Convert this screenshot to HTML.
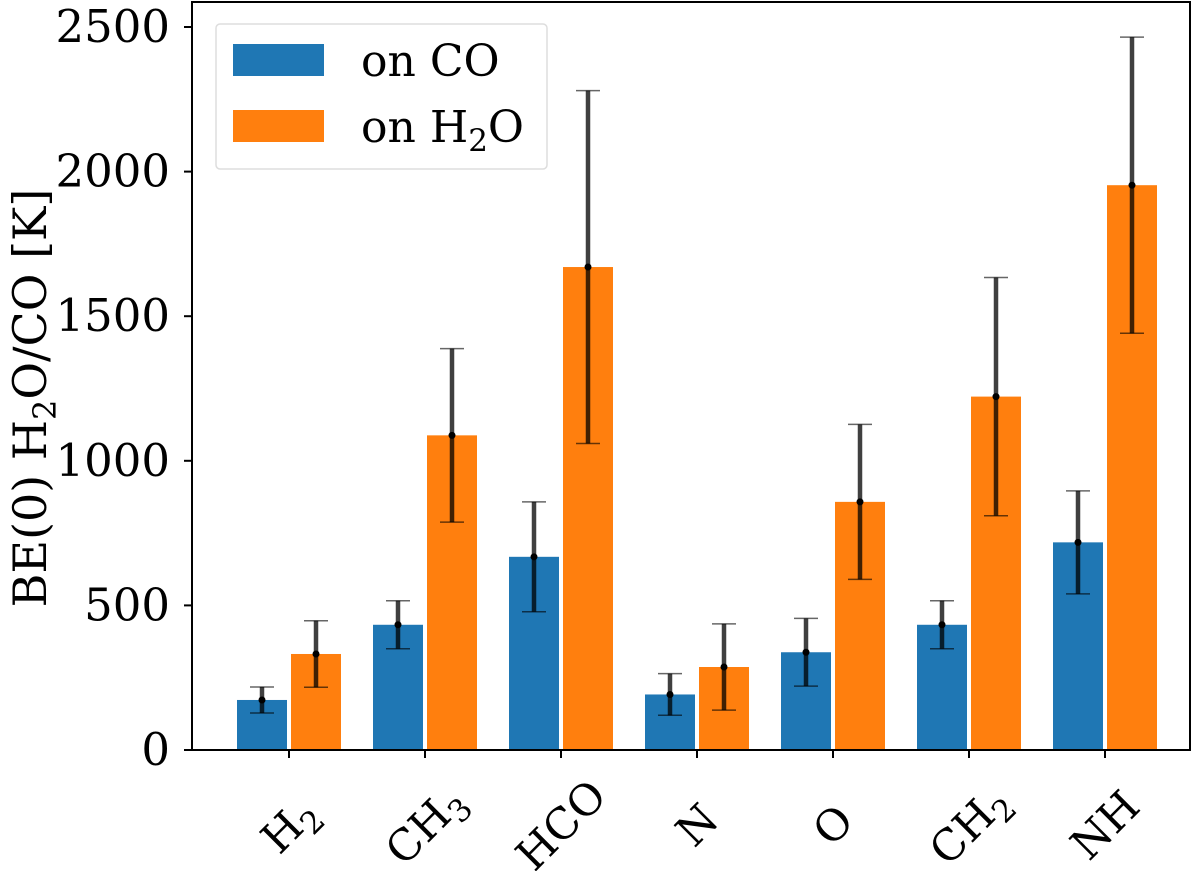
<!DOCTYPE html>
<html><head><meta charset="utf-8"><style>
html,body{margin:0;padding:0;background:#fff;}
svg text{font-family:"DejaVu Serif","Liberation Serif",serif;}
</style></head><body>
<svg id="chart" width="1200" height="871" viewBox="0 0 1200 871" xmlns="http://www.w3.org/2000/svg">
<g id="bars"></g>
<g id="errs"></g>
<g id="axes"></g>
<text transform="translate(46,398) rotate(-90)" text-anchor="middle" font-size="46">BE(0) H<tspan font-size="32" dy="10">2</tspan><tspan dy="-10">O/CO [K]</tspan></text>
<g>
<rect x="216" y="24" width="331" height="145" rx="4" fill="#fff" stroke="#ddd" stroke-width="1.5"/>
<rect x="233" y="44" width="91" height="32" fill="#1f77b4"/>
<rect x="233" y="110" width="91" height="32" fill="#ff7f0e"/>
<text x="361" y="76" font-size="44">on CO</text>
<text x="361" y="142" font-size="44">on H<tspan font-size="31" dy="9">2</tspan><tspan dy="-9">O</tspan></text>
</g>
</svg>
<script>
const categories = ["H2","CH3","HCO","N","O","CH2","NH"];
const subs = ["2","3","","","","2",""];
const onCO = [173,433,668,192,338,433,718];
const onCOErr = [45,83,190,72,117,83,178];
const onH2O = [332,1088,1670,287,858,1222,1953];
const onH2OErr = [115,300,610,149,268,412,512];
const yTicks = [0,500,1000,1500,2000,2500];

const NS="http://www.w3.org/2000/svg";
const X0=192,X1=1190,Y0=750,YT=2;
function x(i){return 289+136*i;}
function y(v){return Y0-v*(144.6/500);}
function mk(tag,attrs,parent){const e=document.createElementNS(NS,tag);for(const k in attrs)e.setAttribute(k,attrs[k]);parent.appendChild(e);return e;}
const bars=document.getElementById('bars'),errs=document.getElementById('errs'),axes=document.getElementById('axes');
const series=[[onCO,onCOErr,"#1f77b4",-27,"co"],[onH2O,onH2OErr,"#ff7f0e",27,"h2o"]];
series.forEach(s=>{
 s[0].forEach((v,i)=>{
  const cx=x(i)+s[3];
  const r=mk('rect',{x:cx-25,y:y(v),width:50,height:Y0-y(v),fill:s[2]},bars);
  
  
  const g=mk('g',{stroke:'#000','stroke-opacity':0.75},errs);
  
  
  const e=s[1][i];
  mk('line',{x1:cx,x2:cx,y1:y(v-e),y2:y(v+e),'stroke-width':4.5},g);
  mk('line',{x1:cx-12,x2:cx+12,y1:y(v-e),y2:y(v-e),'stroke-width':1.5,'stroke-opacity':0.6},g);
  mk('line',{x1:cx-12,x2:cx+12,y1:y(v+e),y2:y(v+e),'stroke-width':1.5,'stroke-opacity':0.6},g);
  mk('circle',{cx:cx,cy:y(v),r:3.5,fill:'#000',stroke:'none'},g);
 });
});
const frame=mk('rect',{x:X0,y:YT,width:X1-X0,height:Y0-YT,fill:'none',stroke:'#000','stroke-width':2},axes);


yTicks.forEach(t=>{
 mk('line',{x1:X0-8,x2:X0,y1:y(t),y2:y(t),stroke:'#000','stroke-width':2},axes);
 const tx=mk('text',{x:X0-22,y:y(t)+15,'text-anchor':'end','font-size':45},axes);
 tx.textContent=t;
 
 
});
categories.forEach((c,i)=>{
 mk('line',{x1:x(i),x2:x(i),y1:Y0,y2:Y0+8,stroke:'#000','stroke-width':2},axes);
 const base=subs[i]?c.slice(0,-1):c;
 const tx=mk('text',{'text-anchor':'middle','font-size':43,transform:`translate(${x(i)},${825}) rotate(-45)`,y:15},axes);
 
 
 tx.appendChild(document.createTextNode(base));
 if(subs[i]){const ts=mk('tspan',{'font-size':31,dy:10},tx);ts.textContent=subs[i];}
});
</script>
</body></html>
